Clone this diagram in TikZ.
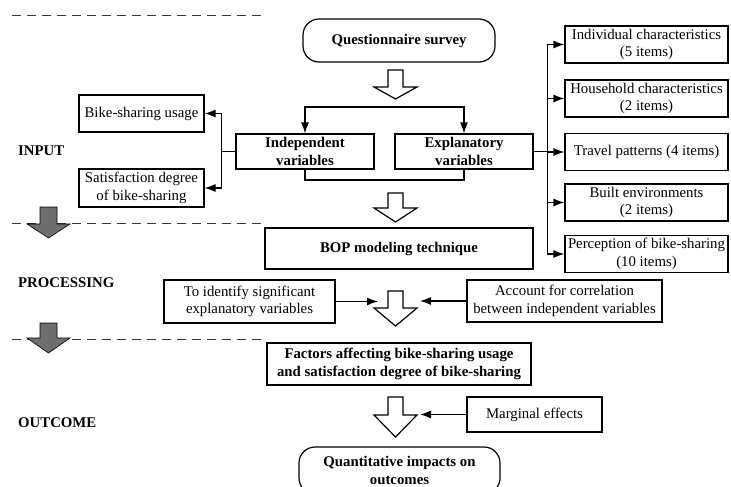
\documentclass[tikz,border=0pt]{standalone}
\usepackage{fontspec}
\setmainfont{Liberation Serif}
\usetikzlibrary{arrows.meta}

\tikzset{
  box/.style={draw, line width=1.2pt, align=center, inner sep=1pt,
    font=\fontsize{14.8}{17.5}\selectfont},
  boldbox/.style={box, font=\fontsize{14.8}{17.5}\selectfont\bfseries},
  roundbox/.style={boldbox, rounded corners=16pt},
  arr/.style={line width=1.2pt, -{Latex[length=11pt,width=8pt]}},
  line/.style={line width=1.2pt},
  sep/.style={dash pattern=on 9pt off 6pt, line width=1pt, black!78},
  stage/.style={anchor=west, inner sep=0pt, font=\fontsize{14.8}{17.5}\selectfont\bfseries},
}

\begin{document}
\begin{tikzpicture}[x=1pt,y=-1pt]
  \useasboundingbox (0,0) rectangle (731,487);

  %%%%  stages
  \draw[sep] (12,16) -- (265,16);
  \draw[sep] (12,223) -- (265,223);
  \draw[sep] (12,339) -- (265,339);
  \foreach \t/\h/\b in {207/224/238, 323/338/353}
    {\draw[line width=0.6pt, fill=black!57] (40,\t) -- (57,\t) -- (57,\h) -- (70,\h)
       -- (48.5,\b) -- (27,\h) -- (40,\h) -- cycle;};
  \node[stage] (input) at (18,151) {INPUT};
  \node[stage] (processing) at (18,283) {PROCESSING};
  \node[stage] (outcome) at (18,423) {OUTCOME};

  %%%%  main column
  \node[roundbox, minimum width=192pt, minimum height=43pt] (survey) at (399,40.5) {Questionnaire survey};
  \node[boldbox, minimum width=138pt, minimum height=35pt] (indep) at (305,151.5) {Independent\\variables};
  \node[boldbox, minimum width=138pt, minimum height=35pt] (explan) at (464,151.5) {Explanatory\\variables};
  \node[boldbox, minimum width=268pt, minimum height=41pt] (bop) at (399,248.5) {BOP modeling technique};
  \node[boldbox, minimum width=264pt, minimum height=42pt] (factors) at (399,364)
    {Factors affecting bike-sharing usage\\and satisfaction degree of bike-sharing};
  \node[roundbox, minimum width=201pt, minimum height=47pt] (quant) at (399.5,470.5)
    {Quantitative impacts on\\outcomes};

  %%%%  hollow arrows
  \foreach \t/\h/\b in {70/87/99, 193/208/222, 291/308/326, 397/415/437}
    {\draw[line, fill=white] (388,\t) -- (403,\t) -- (403,\h) -- (417,\h)
       -- (395.5,\b) -- (374,\h) -- (388,\h) -- cycle;};

  %%%%  variables
  \coordinate (split) at (399,107);
  \coordinate (merge) at (399,180);
  \draw[arr] (split) -| (indep.north);
  \draw[arr] (split) -| (explan.north);
  \draw[line] (indep.south) |- (merge) -| (explan.south);

  \node[box, minimum width=125pt, minimum height=37pt] (usage) at (141.5,113.5) {Bike-sharing usage};
  \node[box, minimum width=125pt, minimum height=38pt] (satis) at (141.5,188) {Satisfaction degree\\of bike-sharing};
  \draw[line] (indep.west) -- ++(-14,0) coordinate (lsplit);
  \draw[arr] (lsplit) |- (usage.east);
  \draw[arr] (lsplit) |- (satis.east);

  \draw[line] (explan.east) -- ++(14,0) coordinate (rsplit);
  \foreach \n/\y/\txt in {ind/44.5/{Individual characteristics\\(5 items)},
                          hh/98.5/{Household characteristics\\(2 items)},
                          travel/152/{Travel patterns (4 items)},
                          built/202.5/{Built environments\\(2 items)},
                          percep/254/{Perception of bike-sharing\\(10 items)}}
    {\node[box, minimum width=163pt, minimum height=37pt] (\n) at (646.5,\y) {\txt};
     \draw[arr] (rsplit) |- (\n.west);};

  %%%%  processing and outcome
  \node[box, minimum width=171pt, minimum height=43pt] (identify) at (249.5,301.5)
    {To identify significant\\explanatory variables};
  \node[box, minimum width=195pt, minimum height=42pt] (account) at (564.5,301)
    {Account for correlation\\between independent variables};
  \node[box, minimum width=135pt, minimum height=35pt] (marginal) at (534.5,414.5) {Marginal effects};
  \coordinate (pinl) at (378,301.5);
  \coordinate (pinr) at (420,301);
  \coordinate (pinm) at (420,414.5);
  \draw[arr] (identify.east) -- (pinl);
  \draw[arr] (account.west) -- (pinr);
  \draw[arr] (marginal.west) -- (pinm);
\end{tikzpicture}
\end{document}
